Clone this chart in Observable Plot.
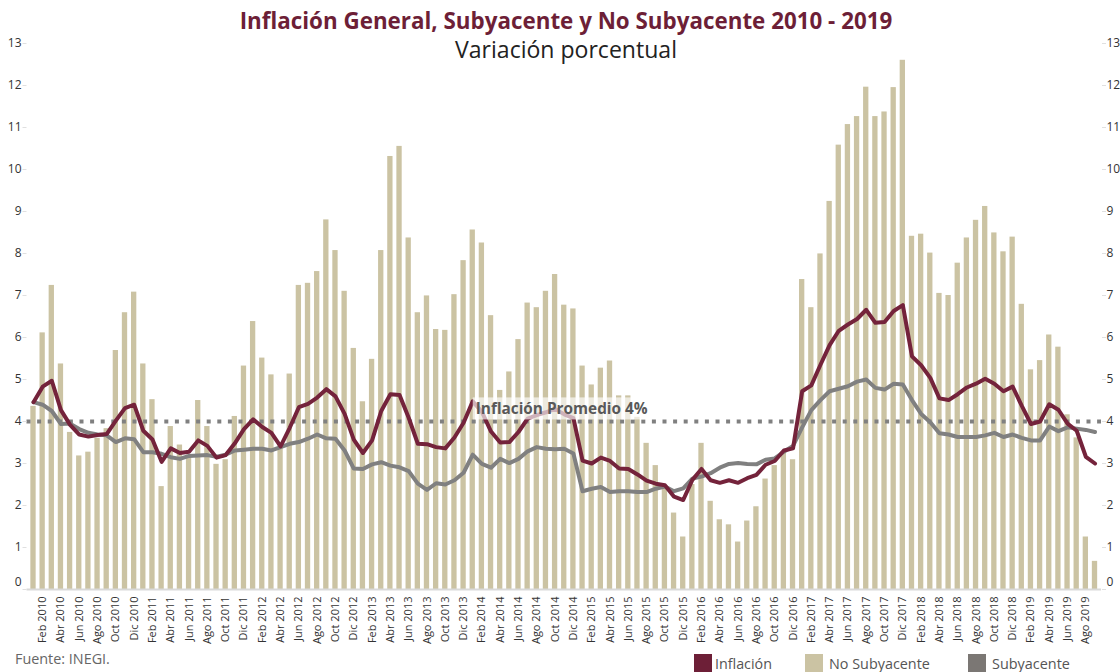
<!DOCTYPE html>
<html>
<head>
<meta charset="utf-8">
<script src="https://cdn.jsdelivr.net/npm/d3@7"></script>
<script src="https://cdn.jsdelivr.net/npm/@observablehq/plot@0.6"></script>
<style>
  html, body { margin: 0; padding: 0; background: #fff; }
  #wrap { position: relative; width: 1120px; height: 672px; overflow: hidden; font-family: "Open Sans", sans-serif; }
  #chart { position: absolute; left: 0; top: 0; }
  .hdr { position: absolute; left: 0; width: 1132px; text-align: center; white-space: nowrap; }
  #title { top: 5px; font-weight: 700; color: #6d1f37; }
  #subtitle { top: 33px; color: #222; }
  #caption { position: absolute; left: 15px; top: 649px; color: #666; white-space: nowrap; }
  .lg { position: absolute; top: 654px; height: 18px; display: flex; align-items: center; white-space: nowrap; color: #555; }
  .sw { width: 18px; height: 18px; margin-right: 3px; }
</style>
</head>
<body>
<div id="wrap">
  <div id="chart"></div>
  <div id="title" class="hdr">Inflación General, Subyacente y No Subyacente 2010 - 2019</div>
  <div id="subtitle" class="hdr">Variación porcentual</div>
  <div id="caption">Fuente: INEGI.</div>
  <div class="lg" style="left:694px"><div class="sw" style="background:#6d1f37"></div><span class="lt">Inflación</span></div>
  <div class="lg" style="left:805px"><div class="sw" style="background:#cbc3a3"></div><span class="lt" style="margin-left:3px">No Subyacente</span></div>
  <div class="lg" style="left:968px"><div class="sw" style="background:#7b7774"></div><span class="lt" style="margin-left:3px">Subyacente</span></div>
</div>
<script>
// ---- Data ----
const years = [2010, 2011, 2012, 2013, 2014, 2015, 2016, 2017, 2018, 2019];
const monthNames = ["Ene", "Feb", "Mar", "Abr", "May", "Jun", "Jul", "Ago", "Sep", "Oct", "Nov", "Dic"];
const months = years.flatMap(y => monthNames.map(m => `${m} ${y}`)).slice(0, 117); // Ene 2010 – Sep 2019

// Inflación general (variación anual %)
const inflacion = [
  4.46, 4.83, 4.97, 4.27, 3.92, 3.69, 3.64, 3.68, 3.70, 4.02, 4.32, 4.40,
  3.78, 3.57, 3.04, 3.36, 3.25, 3.28, 3.55, 3.42, 3.14, 3.20, 3.48, 3.82,
  4.05, 3.87, 3.73, 3.41, 3.85, 4.34, 4.42, 4.57, 4.77, 4.60, 4.18, 3.57,
  3.25, 3.55, 4.25, 4.65, 4.63, 4.09, 3.47, 3.46, 3.39, 3.36, 3.62, 3.97,
  4.48, 4.23, 3.76, 3.50, 3.51, 3.75, 4.07, 4.15, 4.22, 4.30, 4.17, 4.08,
  3.07, 3.00, 3.14, 3.06, 2.88, 2.87, 2.74, 2.59, 2.52, 2.48, 2.21, 2.13,
  2.61, 2.87, 2.60, 2.54, 2.60, 2.54, 2.65, 2.73, 2.97, 3.06, 3.31, 3.36,
  4.72, 4.86, 5.35, 5.82, 6.16, 6.31, 6.44, 6.66, 6.35, 6.37, 6.63, 6.77,
  5.55, 5.34, 5.04, 4.55, 4.51, 4.65, 4.81, 4.90, 5.02, 4.90, 4.72, 4.83,
  4.37, 3.94, 4.00, 4.41, 4.28, 3.95, 3.78, 3.16, 3.00
];

// Inflación subyacente
const subyacente = [
  4.46, 4.40, 4.25, 3.94, 3.95, 3.82, 3.73, 3.69, 3.67, 3.51, 3.60, 3.58,
  3.27, 3.27, 3.23, 3.15, 3.11, 3.18, 3.19, 3.20, 3.16, 3.21, 3.31, 3.33,
  3.35, 3.35, 3.31, 3.39, 3.47, 3.51, 3.59, 3.69, 3.60, 3.59, 3.31, 2.88,
  2.87, 2.98, 3.03, 2.95, 2.91, 2.82, 2.52, 2.37, 2.53, 2.50, 2.60, 2.78,
  3.21, 2.99, 2.90, 3.11, 3.01, 3.11, 3.29, 3.39, 3.35, 3.34, 3.35, 3.24,
  2.34, 2.40, 2.44, 2.32, 2.34, 2.34, 2.32, 2.32, 2.40, 2.45, 2.34, 2.41,
  2.64, 2.69, 2.77, 2.90, 2.99, 3.01, 2.99, 2.98, 3.09, 3.12, 3.28, 3.42,
  3.86, 4.27, 4.51, 4.72, 4.78, 4.84, 4.95, 5.00, 4.80, 4.76, 4.90, 4.88,
  4.51, 4.18, 3.98, 3.72, 3.69, 3.63, 3.63, 3.63, 3.67, 3.73, 3.63, 3.69,
  3.61, 3.55, 3.55, 3.88, 3.77, 3.86, 3.83, 3.80, 3.75
];

// Inflación no subyacente
const noSubyacente = [
  4.36, 6.11, 7.24, 5.37, 3.74, 3.18, 3.27, 3.60, 3.83, 5.69, 6.59, 7.08,
  5.37, 4.52, 2.45, 3.88, 3.44, 3.20, 4.50, 3.88, 2.98, 3.09, 4.12, 5.32,
  6.38, 5.51, 5.11, 3.45, 5.13, 7.24, 7.29, 7.57, 8.80, 8.07, 7.10, 5.74,
  4.47, 5.48, 8.07, 10.31, 10.55, 8.37, 6.59, 6.99, 6.19, 6.17, 7.02, 7.83,
  8.56, 8.25, 6.52, 4.74, 5.18, 5.95, 6.82, 6.71, 7.10, 7.50, 6.77, 6.68,
  5.32, 4.87, 5.27, 5.44, 4.61, 4.61, 4.10, 3.48, 2.95, 2.40, 1.82, 1.25,
  2.50, 3.48, 2.10, 1.66, 1.54, 1.13, 1.63, 1.97, 2.63, 2.95, 3.28, 3.09,
  7.38, 6.71, 7.99, 9.24, 10.58, 11.07, 11.26, 11.96, 11.26, 11.37, 11.95, 12.60,
  8.41, 8.46, 8.01, 7.05, 7.00, 7.77, 8.37, 8.79, 9.12, 8.49, 8.04, 8.39,
  6.79, 5.23, 5.45, 6.06, 5.77, 4.16, 3.61, 1.25, 0.67
];

const yTicks = [0, 1, 2, 3, 4, 5, 6, 7, 8, 9, 10, 11, 12, 13];
const xTickLabels = months.filter((d, i) => i % 2 === 1); // Feb 2010, Abr 2010, ...
const metaInflacion = [4];
const annotation = [{ m: "Ene 2014", v: 4, label: "Inflación Promedio 4%" }];

// ---- Build ----
const data = months.map((m, i) => ({ m, gen: inflacion[i], sub: subyacente[i], nosub: noSubyacente[i] }));

const FONT = '"Open Sans", sans-serif';
function fitSize(text, weight, target) {
  const c = document.createElement("canvas").getContext("2d");
  c.font = `${weight} 100px ${FONT}`;
  return 100 * target / c.measureText(text).width;
}

const annSize = fitSize(annotation[0].label, 700, 172);
const yTicksUp = yTicks.filter(d => d > 0);
const yTickZero = yTicks.filter(d => d === 0);

const plot = Plot.plot({
  width: 1120,
  height: 672,
  marginLeft: 26.5,
  marginRight: 19,
  marginTop: 43,
  marginBottom: 83,
  style: { fontFamily: FONT, fontSize: "12px", color: "#333", background: "transparent" },
  x: { type: "band", domain: months, padding: 0.42, round: false },
  y: { domain: [0, 13] },
  marks: [
    Plot.barY(data, { x: "m", y: "nosub", fill: "#cbc3a3" }),
    Plot.ruleY([0], { stroke: "#d9d9d9", strokeWidth: 2 }),
    Plot.ruleY(metaInflacion, { stroke: "#808080", strokeWidth: 4, strokeDasharray: "4 6.6" }),
    Plot.line(data, { x: "m", y: "sub", stroke: "#808080", strokeWidth: 4, strokeLinejoin: "round", strokeLinecap: "round" }),
    Plot.line(data, { x: "m", y: "gen", stroke: "#74233b", strokeWidth: 4, strokeLinejoin: "round", strokeLinecap: "round" }),
    Plot.text(annotation, { x: "m", y: "v", text: "label", textAnchor: "start", dx: 3, dy: -12,
      fontWeight: 700, fontSize: annSize, fill: "#595959" }),
    Plot.axisY({ anchor: "left", ticks: yTicks, tickSize: 4, text: null, stroke: "#e0e0e0" }),
    Plot.axisY({ anchor: "left", ticks: yTicksUp, tickSize: 0, tickPadding: 5.5, fill: "#333", fontSize: 12, label: null }),
    Plot.axisY({ anchor: "left", ticks: yTickZero, tickSize: 0, tickPadding: 5.5, dy: -7, fill: "#333", fontSize: 12, label: null }),
    Plot.axisY({ anchor: "right", ticks: yTicks, tickSize: 4, text: null, stroke: "#e0e0e0" }),
    Plot.axisY({ anchor: "right", ticks: yTicksUp, tickSize: 0, tickPadding: 5, fill: "#333", fontSize: 12, label: null }),
    Plot.axisY({ anchor: "right", ticks: yTickZero, tickSize: 0, tickPadding: 5, dy: -7, fill: "#333", fontSize: 12, label: null }),
    Plot.axisX({ ticks: xTickLabels, tickSize: 0, tickPadding: 7, tickRotate: -90, fill: "#333", fontSize: 11, label: null })
  ]
});

document.getElementById("chart").appendChild(plot);

// semi-transparent white box behind the annotation text
const annText = Array.from(plot.querySelectorAll("text")).find(t => t.textContent === annotation[0].label);
if (annText) {
  const bb = annText.getBBox();
  const ns = "http://www.w3.org/2000/svg";
  const r = document.createElementNS(ns, "rect");
  r.setAttribute("x", bb.x - 3);
  r.setAttribute("y", bb.y - 1);
  r.setAttribute("width", bb.width + 6);
  r.setAttribute("height", bb.height + 2);
  r.setAttribute("fill", "#ffffff");
  r.setAttribute("fill-opacity", "0.65");
  const tr = annText.getAttribute("transform");
  if (tr) r.setAttribute("transform", tr);
  annText.parentNode.insertBefore(r, annText);
}

// Header / footer text sizes fitted to the reference widths
const t = document.getElementById("title");
t.style.fontSize = fitSize(t.textContent, 700, 653) + "px";
const s = document.getElementById("subtitle");
s.style.fontSize = fitSize(s.textContent, 400, 222) + "px";
const cap = document.getElementById("caption");
cap.style.fontSize = fitSize(cap.textContent, 400, 95) + "px";
const lts = document.querySelectorAll(".lt");
const lw = [57, 101, 78];
lts.forEach((el, i) => { el.style.fontSize = fitSize(el.textContent, 400, lw[i]) + "px"; });
</script>
</body>
</html>
